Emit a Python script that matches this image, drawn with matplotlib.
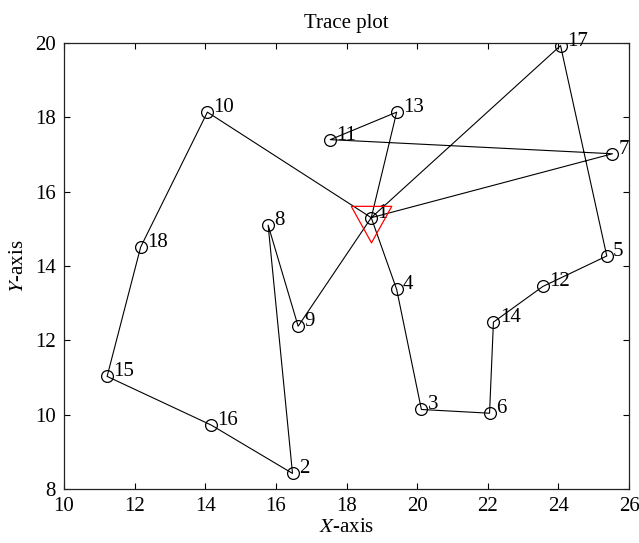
import numpy as np
import matplotlib.pyplot as plt

plt.rcParams['font.family'] = ['Liberation Serif', 'DejaVu Serif']
plt.rcParams['mathtext.fontset'] = 'stix'

# node coordinates
node_ids = list(range(1, 19))
node_x = [18.70, 16.47, 20.12, 19.42, 25.37, 22.05, 25.53, 15.78, 16.63,
          14.06, 17.54, 23.56, 19.42, 22.16, 11.22, 14.17, 24.06, 12.17]
node_y = [15.30, 8.42, 10.14, 13.37, 14.27, 10.04, 17.02, 15.10, 12.38,
          18.14, 17.40, 13.45, 18.14, 12.49, 11.03, 9.72, 19.93, 14.51]

# visiting order, three trips starting and ending at depot 1
route = [1, 7, 11, 13, 1, 4, 3, 6, 14, 12, 5, 17, 1, 9, 8, 2, 16, 15, 18, 10, 1]
depot = 1

fig = plt.figure(figsize=(6.39, 5.43), dpi=100)
ax = fig.add_axes([0.1002, 0.0994, 0.8842, 0.8214])

rx = [node_x[i - 1] for i in route]
ry = [node_y[i - 1] for i in route]
ax.plot(rx, ry, color='black', lw=0.8, zorder=2)
ax.plot(node_x, node_y, 'o', ms=8.5, mfc='none', mec='black', mew=0.9, zorder=3)

# downward triangle centred on its centroid, like the original
tri = [(-1, 0.6), (1, 0.6), (0, -1.2), (-1, 0.6)]
ax.plot([node_x[depot - 1]], [node_y[depot - 1]], marker=tri, ms=35,
        mfc='none', mec='red', mew=0.9, ls='none', zorder=4)

fs = 15
for i, x, y in zip(node_ids, node_x, node_y):
    ax.annotate(str(i), (x, y), xytext=(4.5, 0), textcoords='offset points',
                ha='left', va='baseline', fontsize=fs)

ax.set_xlim(10, 26)
ax.set_ylim(8, 20)
ax.set_xticks(np.arange(10, 27, 2))
ax.set_yticks(np.arange(8, 21, 2))
ax.tick_params(direction='in', top=True, right=True, length=4, width=0.8,
               labelsize=fs)
ax.tick_params(axis='x', pad=6)
ax.tick_params(axis='y', pad=6)
for s in ax.spines.values():
    s.set_linewidth(0.9)
    s.set_color('#222222')

ax.set_title('Trace plot', fontsize=fs, pad=11)
ax.set_xlabel('$X$-axis', fontsize=fs, labelpad=1)
ax.set_ylabel('$Y$-axis', fontsize=fs, labelpad=5)

fig.savefig('out.png', dpi=100)
